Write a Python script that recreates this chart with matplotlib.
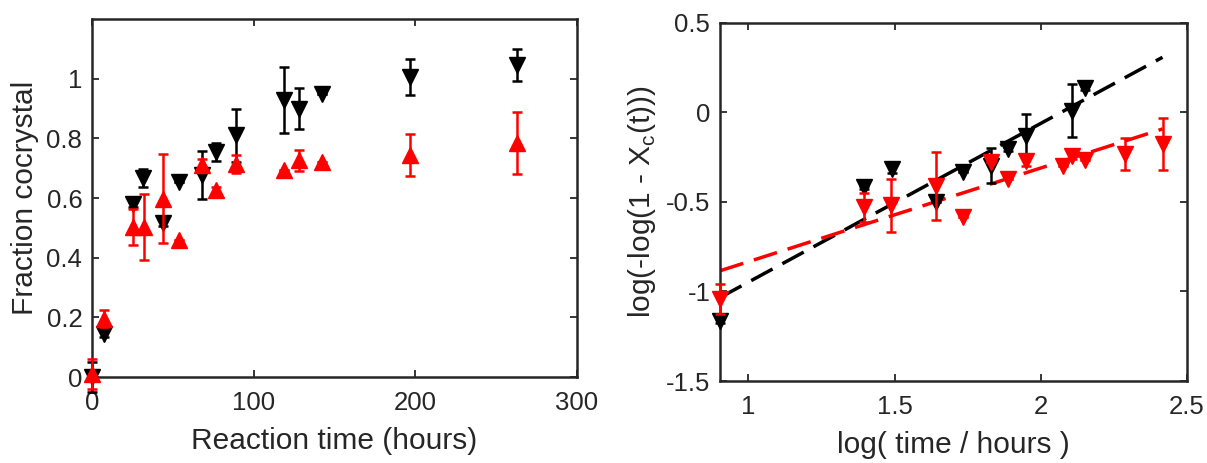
import numpy as np
import matplotlib
matplotlib.use("Agg")
from matplotlib import pyplot as plt

# left panel: fraction cocrystal vs reaction time
time_blk = [0, 7.6, 25.2, 31.8, 44.2, 53.7, 68, 76.9, 89.3, 118.8, 128, 142, 197, 263]
frac_blk = [0.0, 0.145, 0.58, 0.666, 0.515, 0.654, 0.677, 0.755, 0.81, 0.928, 0.90, 0.95, 1.007, 1.046]
err_blk = [0.05, 0.01, 0.01, 0.03, 0.01, 0.0, 0.08, 0.03, 0.09, 0.11, 0.07, 0.0, 0.06, 0.055]

time_red = [0, 7.6, 25.2, 32, 44.2, 53.7, 68, 76.9, 89.3, 118.8, 128, 142, 197, 263]
frac_red = [0.01, 0.196, 0.503, 0.503, 0.598, 0.46, 0.71, 0.626, 0.714, 0.694, 0.727, 0.72, 0.744, 0.785]
err_red = [0.05, 0.03, 0.06, 0.11, 0.15, 0.0, 0.02, 0.01, 0.03, 0.0, 0.035, 0.0, 0.07, 0.105]

# right panel: Avrami-type plot
logt_blk = [0.903, 1.396, 1.49, 1.64, 1.732, 1.831, 1.886, 1.949, 2.106, 2.152]
avr_blk = [-1.164, -0.419, -0.317, -0.503, -0.335, -0.298, -0.205, -0.13, 0.009, 0.136]
avr_err_blk = [0.01, 0.01, 0.02, 0.0, 0.0, 0.097, 0.01, 0.12, 0.15, 0.01]

logt_red = [0.903, 1.396, 1.487, 1.64, 1.732, 1.831, 1.886, 1.949, 2.074, 2.106, 2.152, 2.289, 2.416]
avr_red = [-1.043, -0.531, -0.52, -0.41, -0.587, -0.279, -0.372, -0.27, -0.298, -0.242, -0.266, -0.233, -0.177]
avr_err_red = [0.085, 0.08, 0.15, 0.19, 0.0, 0.0, 0.0, 0.03, 0.0, 0.02, 0.0, 0.09, 0.145]

fit_blk = (0.886, -1.834)  # slope, intercept
fit_red = (0.523, -1.357)
fit_range = (0.903, 2.416)

plt.rcParams['font.family'] = ['Liberation Sans', 'DejaVu Sans']
dark = '#262626'
plt.rcParams['text.color'] = dark
plt.rcParams['axes.edgecolor'] = dark
plt.rcParams['axes.labelcolor'] = dark
plt.rcParams['xtick.color'] = dark
plt.rcParams['ytick.color'] = dark

fig = plt.figure(figsize=(12.07, 4.63), dpi=100)
ax1 = fig.add_axes([0.0762, 0.1857, 0.4018, 0.7732])
ax2 = fig.add_axes([0.5966, 0.1771, 0.3869, 0.7740])

eb = dict(linestyle='none', markersize=11, elinewidth=1.8, capsize=3.5, capthick=1.8, clip_on=False)

ax1.errorbar(time_blk, frac_blk, yerr=err_blk, marker='v', color='black', zorder=3, **eb)
ax1.errorbar(time_red, frac_red, yerr=err_red, marker='^', color='red', zorder=4, **eb)
ax1.set_xlim(0, 300)
ax1.set_ylim(0, 1.2)
ax1.set_xticks([0, 100, 200, 300])
ax1.set_yticks([0, 0.2, 0.4, 0.6, 0.8, 1])
ax1.set_yticklabels(['0', '0.2', '0.4', '0.6', '0.8', '1'])
ax1.set_xlabel('Reaction time (hours)', fontsize=21.5, labelpad=9)
ax1.set_ylabel('Fraction cocrystal', fontsize=21.5, labelpad=5)

xs = np.array(fit_range)
ax2.plot(xs, fit_blk[0] * xs + fit_blk[1], color='black', lw=2.5, dashes=(7, 3.2), zorder=2)
ax2.plot(xs, fit_red[0] * xs + fit_red[1], color='red', lw=2.5, dashes=(7, 3.2), zorder=2)
ax2.errorbar(logt_blk, avr_blk, yerr=avr_err_blk, marker='v', color='black', zorder=3, **eb)
ax2.errorbar(logt_red, avr_red, yerr=avr_err_red, marker='v', color='red', zorder=4, **eb)
ax2.set_xlim(0.903, 2.5)
ax2.set_ylim(-1.5, 0.5)
ax2.set_xticks([1, 1.5, 2, 2.5])
ax2.set_xticklabels(['1', '1.5', '2', '2.5'])
ax2.set_yticks([-1.5, -1, -0.5, 0, 0.5])
ax2.set_yticklabels(['-1.5', '-1', '-0.5', '0', '0.5'])
ax2.set_xlabel('log( time / hours )', fontsize=21.5, labelpad=9)
ax2.set_ylabel(r'log(-log(1 - X$_\mathregular{c}$(t)))', fontsize=21.5, labelpad=6)

for ax in (ax1, ax2):
    ax.tick_params(direction='in', length=5, width=1.3, labelsize=18.5, top=True, right=True)
    ax.tick_params(axis='x', pad=10)
    ax.tick_params(axis='y', pad=7)
    for s in ax.spines.values():
        s.set_linewidth(1.8)

plt.savefig('out.png', dpi=100)
